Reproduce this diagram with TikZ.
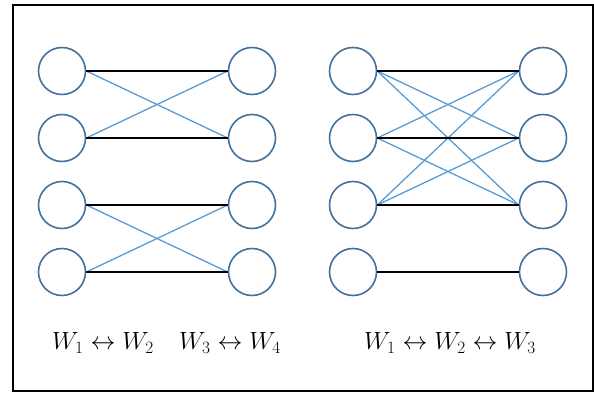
\documentclass[tikz,border=0pt]{standalone}
\usepackage{amsmath, amssymb}
\usepackage{xcolor}
\usepackage{tikz}
\usetikzlibrary{positioning}
\definecolor{ringblue}{RGB}{65,113,156}
\definecolor{linkblue}{RGB}{91,155,213}
\tikzstyle{unit} = [draw=ringblue, circle, line width=1.6pt,
    minimum size=47pt, inner sep=0pt]
\tikzstyle{same} = [black, line width=1.3pt]
\tikzstyle{swap} = [linkblue, line width=1.3pt]
\tikzstyle{lbl} = [font=\fontsize{23}{27}\selectfont]

\begin{document}
\begin{tikzpicture}[x=1pt, y=1pt, node distance=18.4pt and 141.4pt]
  \useasboundingbox (0,0) rectangle (594,392);
  \draw[line width=2pt] (13,1.5) rectangle (592.5,387);

  % Left group: two separate pairs
  \node[unit] (a1) at (62,321) {};
  \node[unit, below=of a1] (a2) {};
  \node[unit, below=of a2] (a3) {};
  \node[unit, below=of a3] (a4) {};
  \node[unit, right=of a1] (b1) {};
  \node[unit, right=of a2] (b2) {};
  \node[unit, right=of a3] (b3) {};
  \node[unit, right=of a4] (b4) {};

  % Right group: three-way block plus a fixed unit
  \node[unit] (c1) at (353,321) {};
  \node[unit, below=of c1] (c2) {};
  \node[unit, below=of c2] (c3) {};
  \node[unit, below=of c3] (c4) {};
  \node[unit, right=of c1] (d1) {};
  \node[unit, right=of c2] (d2) {};
  \node[unit, right=of c3] (d3) {};
  \node[unit, right=of c4] (d4) {};

  % Labels
  \node[lbl] (pairs12) at (103,49) {$W_1 \leftrightarrow W_2$};
  \node[lbl] (pairs34) at (230,49) {$W_3 \leftrightarrow W_4$};
  \node[lbl] (triple) at (450,49) {$W_1 \leftrightarrow W_2 \leftrightarrow W_3$};

  % Left links
  \draw[swap] (a1.east) -- (b2.west);
  \draw[swap] (a2.east) -- (b1.west);
  \draw[swap] (a3.east) -- (b4.west);
  \draw[swap] (a4.east) -- (b3.west);
  \draw[same] (a1.east) -- (b1.west);
  \draw[same] (a2.east) -- (b2.west);
  \draw[same] (a3.east) -- (b3.west);
  \draw[same] (a4.east) -- (b4.west);

  % Right links
  \draw[swap] (c1.east) -- (d2.west);
  \draw[swap] (c1.east) -- (d3.west);
  \draw[swap] (c2.east) -- (d1.west);
  \draw[swap] (c2.east) -- (d3.west);
  \draw[swap] (c3.east) -- (d1.west);
  \draw[swap] (c3.east) -- (d2.west);
  \draw[same] (c1.east) -- (d1.west);
  \draw[same] (c2.east) -- (d2.west);
  \draw[same] (c3.east) -- (d3.west);
  \draw[same] (c4.east) -- (d4.west);
\end{tikzpicture}
\end{document}
